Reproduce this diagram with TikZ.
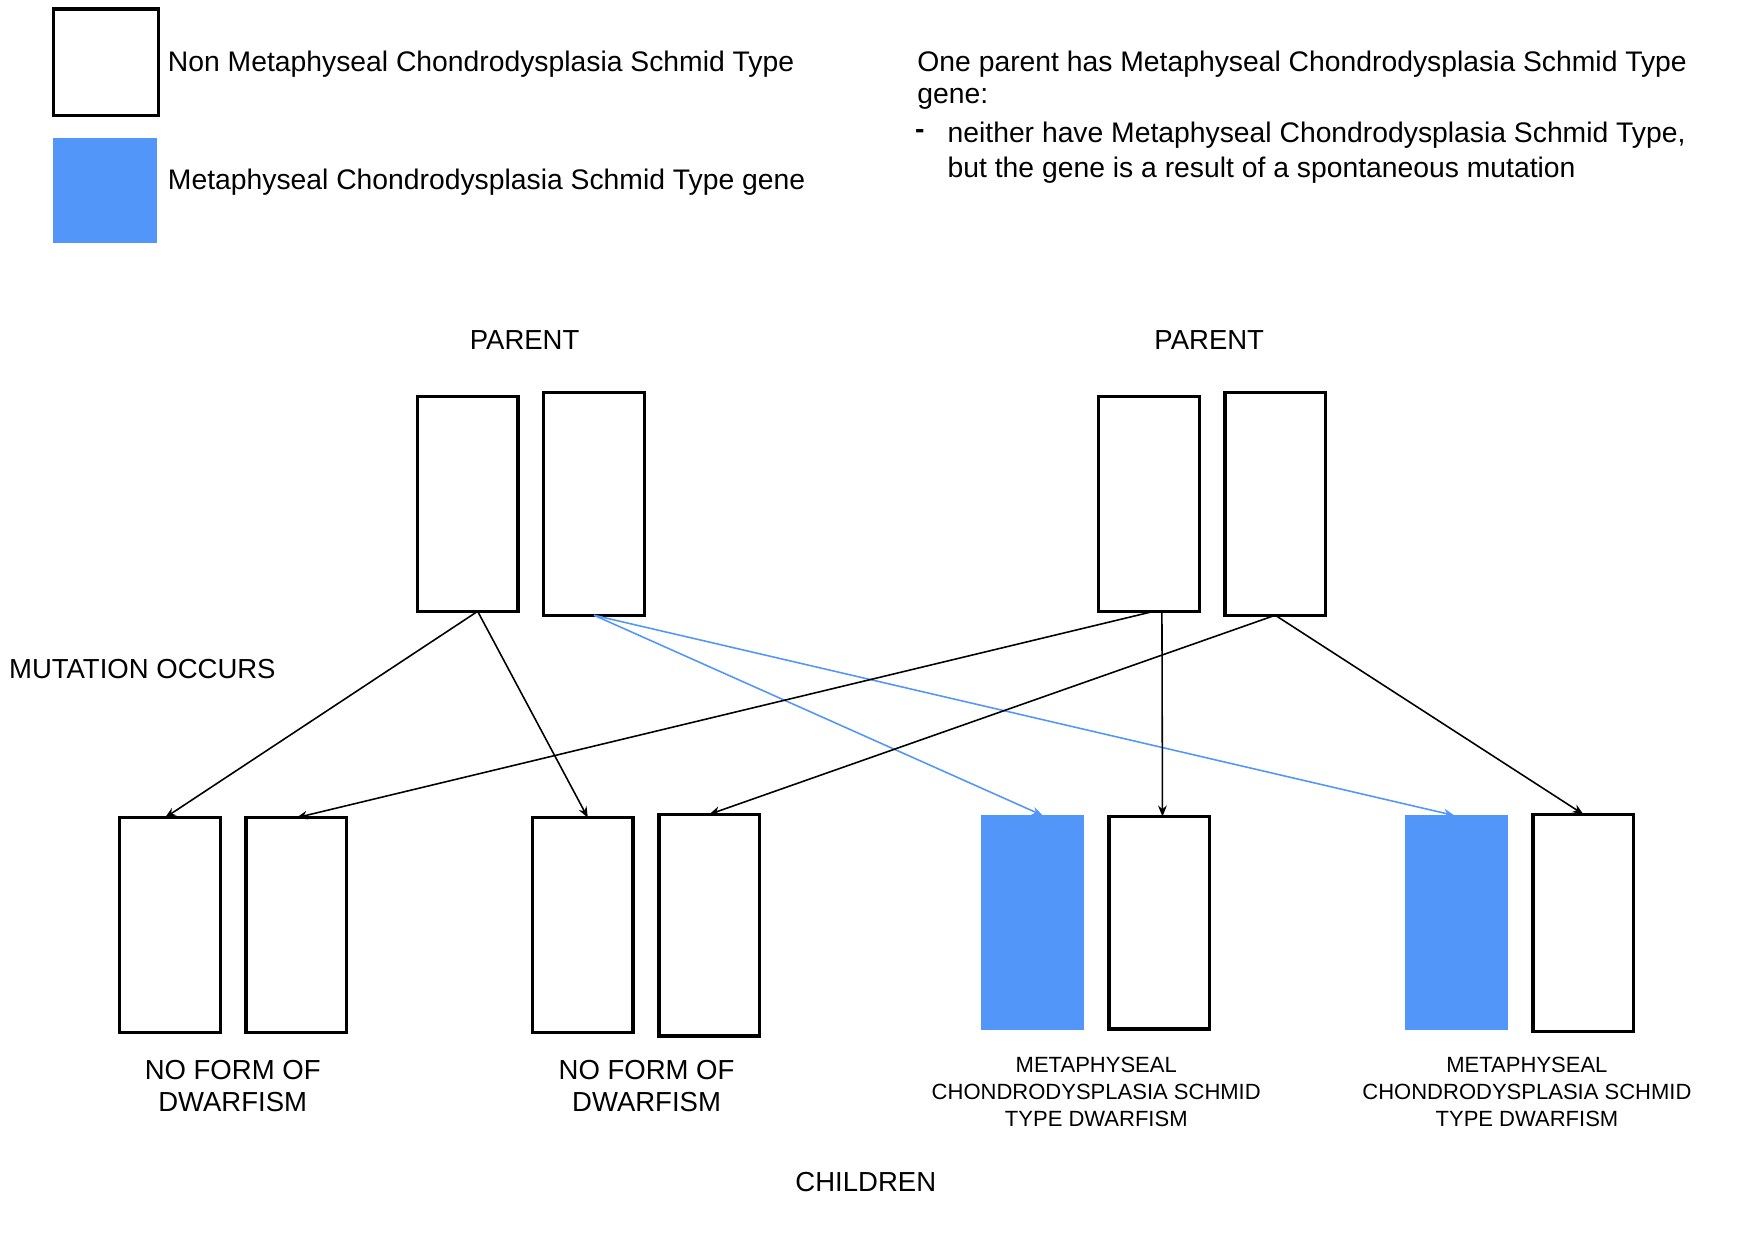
\documentclass[tikz,border=0pt]{standalone}
\usepackage{fontspec}
\setmainfont{Liberation Sans}
\usetikzlibrary{calc,arrows.meta}
\definecolor{gblue}{RGB}{83,150,250}
\begin{document}
\begin{tikzpicture}[x=0.05cm,y=-0.05cm,
  box/.style={draw=black,line width=4.2pt,minimum width=4.5cm,minimum height=9.6cm,inner sep=0pt,outer sep=0pt},
  bbox/.style={fill=gblue,minimum width=4.6cm,minimum height=9.6cm,inner sep=0pt,outer sep=0pt},
  big/.style={font=\fontsize{35}{40}\selectfont},
  lab/.style={font=\fontsize{36}{42}\selectfont,anchor=west,inner sep=0pt},
  small/.style={font=\fontsize{28}{34}\selectfont,align=center},
  arr/.style={-{Stealth[length=14pt,width=11pt]},line width=2pt},
  barr/.style={arr,draw=gblue}]
\useasboundingbox (0,0) rectangle (1568,1108);
% legend
\node[box,minimum width=4.7cm,minimum height=4.75cm] (lg1) at (95,55.5) {};
\node[bbox,minimum width=4.65cm,minimum height=4.7cm] (lg2) at (93.5,170) {};
\node[lab] (t1) at (150,57) {Non Metaphyseal Chondrodysplasia Schmid Type};
\node[lab] (t2) at (150,163) {Metaphyseal Chondrodysplasia Schmid Type gene};
\node[lab] (t3) at (820,57) {One parent has Metaphyseal Chondrodysplasia Schmid Type};
\node[lab] (t4) at (820,88) {gene:};
\node[lab,font=\bfseries\fontsize{36}{42}\selectfont] (t5) at (818,120) {-};
\node[lab] (t6) at (847,121) {neither have Metaphyseal Chondrodysplasia Schmid Type,};
\node[lab] (t7) at (847,152) {but the gene is a result of a spontaneous mutation};
% parents
\node[big] (pl) at (469,304) {PARENT};
\node[big] (pr) at (1081,304) {PARENT};
\node[box] (a1) at (418,450.5) {};
\node[box,minimum height=9.95cm] (a2) at (531,450.5) {};
\node[box] (b1) at (1027,450.5) {};
\node[box,minimum height=9.95cm] (b2) at (1140,450.5) {};
\node[big,anchor=west,inner sep=0pt] (mut) at (8,598) {MUTATION OCCURS};
% children
\node[box] (c1) at (152,827) {};
\node[box] (c2) at (265,827) {};
\node[box] (d1) at (521,827) {};
\node[box,minimum height=9.9cm] (d2) at (634,827) {};
\node[bbox] (e1) at (923,825) {};
\node[box,minimum height=9.5cm] (e2) at (1036.5,825) {};
\node[bbox] (f1) at (1302,825) {};
\node[box,minimum height=9.7cm] (f2) at (1415.5,825) {};
\node[big,align=center] (l1) at (208,971) {NO FORM OF\\DWARFISM};
\node[big,align=center] (l2) at (578,971) {NO FORM OF\\DWARFISM};
\node[small] (l3) at (980,976) {METAPHYSEAL\\CHONDRODYSPLASIA SCHMID\\TYPE DWARFISM};
\node[small] (l4) at (1365,976) {METAPHYSEAL\\CHONDRODYSPLASIA SCHMID\\TYPE DWARFISM};
\node[big] (ch) at (774,1057) {CHILDREN};
% arrows
\coordinate (sa) at ($(a1.south west)!0.6!(a1.south east)$);
\coordinate (sb) at ($(b1.south west)!0.55!(b1.south east)$);
\coordinate (sb2) at ($(b1.south west)!0.63!(b1.south east)$);
\draw[arr] (sa) -- ($(c1.north west)!0.45!(c1.north east)$);
\draw[arr] (sa) -- ($(d1.north west)!0.55!(d1.north east)$);
\draw[barr] (a2.south) -- ($(e1.north west)!0.6!(e1.north east)$);
\draw[barr] (a2.south) -- ($(f1.north west)!0.48!(f1.north east)$);
\draw[arr] (sb) -- ($(c2.north west)!0.5!(c2.north east)$);
\draw[arr] (sb2) -- ($(e2.north west)!0.53!(e2.north east)$);
\draw[arr] (b2.south) -- (d2.north);
\draw[arr] (b2.south) -- (f2.north);
\end{tikzpicture}
\end{document}
